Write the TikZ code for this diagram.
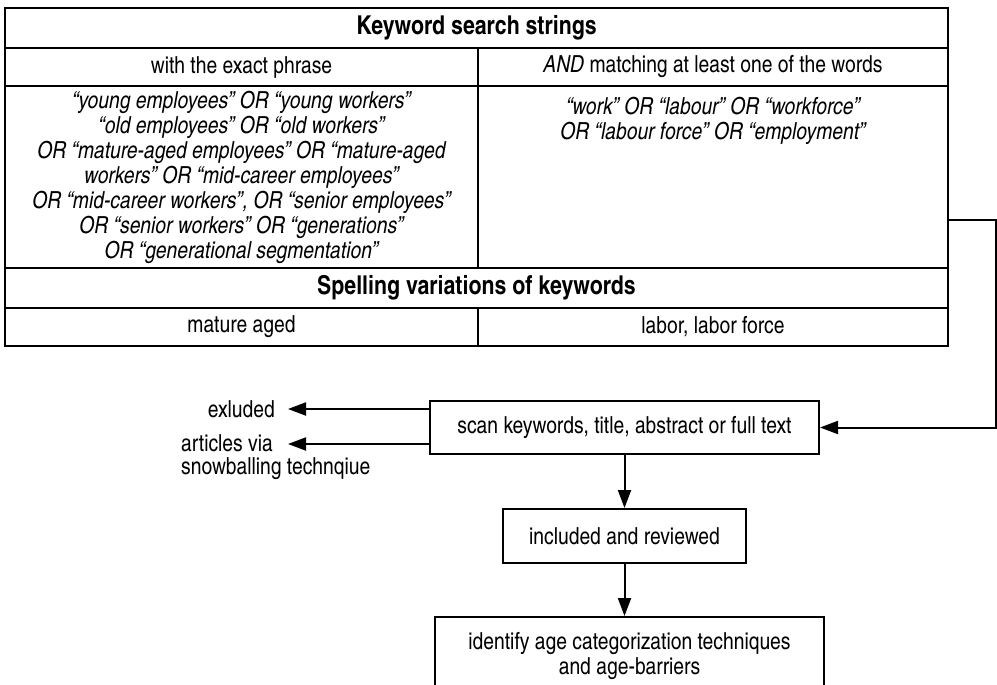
\documentclass[tikz,border=0pt]{standalone}
\usepackage{fontspec}
\setmainfont{texgyreheroscn}[Extension=.otf, UprightFont=*-regular, BoldFont=*-bold, ItalicFont=*-italic, BoldItalicFont=*-bolditalic]
\usepackage{tikz}
\usetikzlibrary{arrows.meta, positioning, calc}

\begin{document}
\begin{tikzpicture}[x=1pt, y=-1pt,
        cell/.style={draw, line width=2pt, inner sep=0pt},
        headcell/.style={cell, font=\fontsize{26}{28}\selectfont\bfseries},
        flowbox/.style={draw, line width=2pt, inner sep=0pt, align=center},
        flow/.style={line width=2pt, -{Triangle[length=18pt, width=13pt]}},
        every node/.style={font=\fontsize{23.5}{25}\selectfont}]
    \useasboundingbox (0,0) rectangle (997,685);
    \clip (0,0) rectangle (997,685);

    % search string table
    \node[headcell, minimum width=943pt, minimum height=40pt] (title) at (476.5,28) {Keyword search strings};
    \node[cell, minimum width=473pt, minimum height=38pt] (phrase) at (241.5,67) {with the exact phrase};
    \node[cell, minimum width=470pt, minimum height=38pt] (words) at (713,67) {\textit{AND} matching at least one of the words};
    \node[cell, minimum width=473pt, minimum height=182pt, align=center,
          font=\fontsize{23.5}{25}\selectfont\itshape] (phraseL) at (241.5,177) {%
        “young employees” OR “young workers”\\
        “old employees” OR “old workers”\\
        OR “mature-aged employees” OR “mature-aged\\
        workers” OR “mid-career employees”\\
        OR “mid-career workers”, OR “senior employees”\\
        OR “senior workers” OR “generations”\\
        OR “generational segmentation”};
    \node[cell, minimum width=470pt, minimum height=182pt] (wordsR) at (713,177) {};
    \node[align=center, below=12pt of wordsR.north, inner sep=0pt,
          font=\fontsize{23.5}{25}\selectfont\itshape] (wordsRtxt) {%
        “work” OR “labour” OR “workforce”\\
        OR “labour force” OR “employment”};
    \node[headcell, minimum width=943pt, minimum height=40pt] (spell) at (476.5,288) {Spelling variations of keywords};
    \node[cell, minimum width=473pt, minimum height=38pt] (spellL) at (241.5,327) {mature aged};
    \node[cell, minimum width=470pt, minimum height=38pt] (spellR) at (713,327) {labor, labor force};

    % flow
    \node[flowbox, minimum width=389pt, minimum height=53pt] (scan) at (624.5,427.5) {scan keywords, title, abstract or full text};
    \node[flowbox, minimum width=243pt, minimum height=54pt] (incl) at (624.5,536) {included and reviewed};
    \node[flowbox, minimum width=389pt, minimum height=78pt] (ident) at (629.5,656) {identify age categorization techniques\\and age-barriers};

    \node[anchor=east, inner xsep=13pt, inner ysep=0pt] (excl) at (288,409) {exluded};
    \node[anchor=north west, align=left, inner sep=0pt, font=\fontsize{23.5}{23}\selectfont] (snow) at (181,434) {articles via\\snowballing technqiue};
    \coordinate (snowtip) at (288,444);
    \coordinate (turn) at (996,220);

    \draw[flow] (scan.west |- excl) -- (excl.east);
    \draw[flow] (scan.west |- snowtip) -- (snowtip);
    \draw[flow] (wordsR.east |- turn) -- (turn) |- (scan.east);
    \draw[flow] (scan) -- (incl);
    \draw[flow] (incl) -- (incl |- ident.north);
\end{tikzpicture}
\end{document}
